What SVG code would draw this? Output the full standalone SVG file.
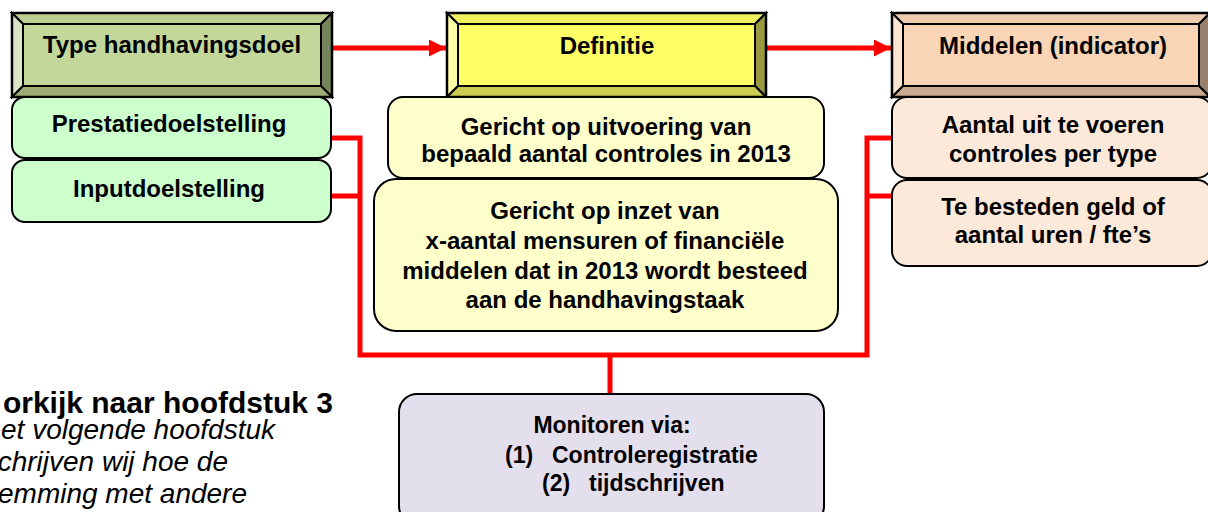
<svg xmlns="http://www.w3.org/2000/svg" width="1208" height="512" viewBox="0 0 1208 512">
<defs>
<style>
.t{font-family:"Liberation Sans",Arial,sans-serif;font-weight:bold;font-size:24px;fill:#000;text-anchor:middle}
.bv{stroke:#000;stroke-width:2;stroke-linejoin:miter}
.rb{stroke:#000;stroke-width:2}
.con{fill:none;stroke:#ff0000;stroke-width:5}
.note{font-family:"Liberation Sans",Arial,sans-serif;fill:#000;text-anchor:end}
</style>
<marker id="ah" viewBox="0 0 10 10" refX="10" refY="5" markerWidth="4" markerHeight="3.4" markerUnits="strokeWidth" orient="auto">
<path d="M0,0 L10,5 L0,10 Z" fill="#ff0000"/>
</marker>
</defs>
<rect width="1208" height="512" fill="#fff"/>

<g id="connectors">
<line class="con" x1="332" y1="48" x2="446" y2="48" marker-end="url(#ah)"/>
<line class="con" x1="766" y1="48" x2="891" y2="48" marker-end="url(#ah)"/>
<polyline class="con" points="331,138 360,138 360,355 867,355 867,138 896,138"/>
<polyline class="con" points="331,196 360,196"/>
<polyline class="con" points="867,196 896,196"/>
<line class="con" x1="610" y1="355" x2="610" y2="395"/>
</g>

<g id="type">
<rect x="12" y="13" width="320" height="84" fill="#c4d79b"/>
<polygon class="bv" points="12,13 332,13 321,24 23,24" fill="#bccf92"/>
<polygon class="bv" points="12,13 23,24 23,86 12,97" fill="#dbe5c3"/>
<polygon class="bv" points="332,13 332,97 321,86 321,24" fill="#76845a"/>
<polygon class="bv" points="12,97 23,86 321,86 332,97" fill="#9dac74"/>
<rect x="12" y="13" width="320" height="84" fill="none" stroke="#000" stroke-width="2.5"/>
<text class="t" x="172" y="53">Type handhavingsdoel</text>
</g>

<g id="definitie">
<rect x="447" y="13" width="319" height="84" fill="#ffff66"/>
<polygon class="bv" points="447,13 766,13 755,24 458,24" fill="#f2f260"/>
<polygon class="bv" points="447,13 458,24 458,86 447,97" fill="#ffffa8"/>
<polygon class="bv" points="766,13 766,97 755,86 755,24" fill="#999940"/>
<polygon class="bv" points="447,97 458,86 755,86 766,97" fill="#cccc52"/>
<rect x="447" y="13" width="319" height="84" fill="none" stroke="#000" stroke-width="2.5"/>
<text class="t" x="607" y="54">Definitie</text>
</g>

<g id="middelen">
<rect x="892" y="13" width="318" height="84" fill="#fad5b5"/>
<polygon class="bv" points="892,13 1210,13 1199,24 903,24" fill="#f0ccae"/>
<polygon class="bv" points="892,13 903,24 903,86 892,97" fill="#fde5d2"/>
<polygon class="bv" points="1210,13 1210,97 1199,86 1199,24" fill="#96806c"/>
<polygon class="bv" points="892,97 903,86 1199,86 1210,97" fill="#c8aa90"/>
<rect x="892" y="13" width="318" height="84" fill="none" stroke="#000" stroke-width="2.5"/>
<text class="t" x="1053" y="54">Middelen (indicator)</text>
</g>

<g id="prestatie">
<rect class="rb" x="12" y="97" width="319" height="61" rx="13" fill="#ccffcc"/>
<text class="t" x="169" y="132">Prestatiedoelstelling</text>
</g>
<g id="input">
<rect class="rb" x="12" y="160" width="319" height="62" rx="13" fill="#ccffcc"/>
<text class="t" x="169" y="197">Inputdoelstelling</text>
</g>

<g id="def1">
<rect class="rb" x="388" y="97" width="436" height="81" rx="15" fill="#ffffcc"/>
<text class="t" x="606" y="135">Gericht op uitvoering van</text>
<text class="t" x="606" y="162">bepaald aantal controles in 2013</text>
</g>
<g id="def2">
<rect class="rb" x="374" y="179" width="464" height="152" rx="22" fill="#ffffcc"/>
<text class="t" x="605" y="219">Gericht op inzet van</text>
<text class="t" x="605" y="249">x-aantal mensuren of financiële</text>
<text class="t" x="605" y="279">middelen dat in 2013 wordt besteed</text>
<text class="t" x="605" y="308">aan de handhavingstaak</text>
</g>

<g id="mid1">
<rect class="rb" x="892" y="97" width="320" height="81" rx="15" fill="#fde9d9"/>
<text class="t" x="1053" y="133">Aantal uit te voeren</text>
<text class="t" x="1053" y="162">controles per type</text>
</g>
<g id="mid2">
<rect class="rb" x="892" y="180" width="320" height="86" rx="15" fill="#fde9d9"/>
<text class="t" x="1053" y="215">Te besteden geld of</text>
<text class="t" x="1053" y="243">aantal uren / fte’s</text>
</g>

<g id="monitoren">
<rect class="rb" x="399" y="394" width="425" height="130" rx="18" fill="#e4dfec"/>
<text class="t" x="612" y="433" style="font-size:23px">Monitoren via:</text>
<text class="t" style="text-anchor:start;font-size:23px" y="463"><tspan x="505">(1)</tspan><tspan x="552">Controleregistratie</tspan></text>
<text class="t" style="text-anchor:start;font-size:23px" y="491"><tspan x="542">(2)</tspan><tspan x="589">tijdschrijven</tspan></text>
</g>

<g id="note">
<text class="note" x="333" y="413" font-size="30" font-weight="bold">orkijk naar hoofdstuk 3</text>
<text class="note" x="275" y="439" font-size="28" font-style="italic">et volgende hoofdstuk</text>
<text class="note" x="228" y="471" font-size="28" font-style="italic">chrijven wij hoe de</text>
<text class="note" x="247" y="503" font-size="28" font-style="italic">emming met andere</text>
</g>
</svg>
